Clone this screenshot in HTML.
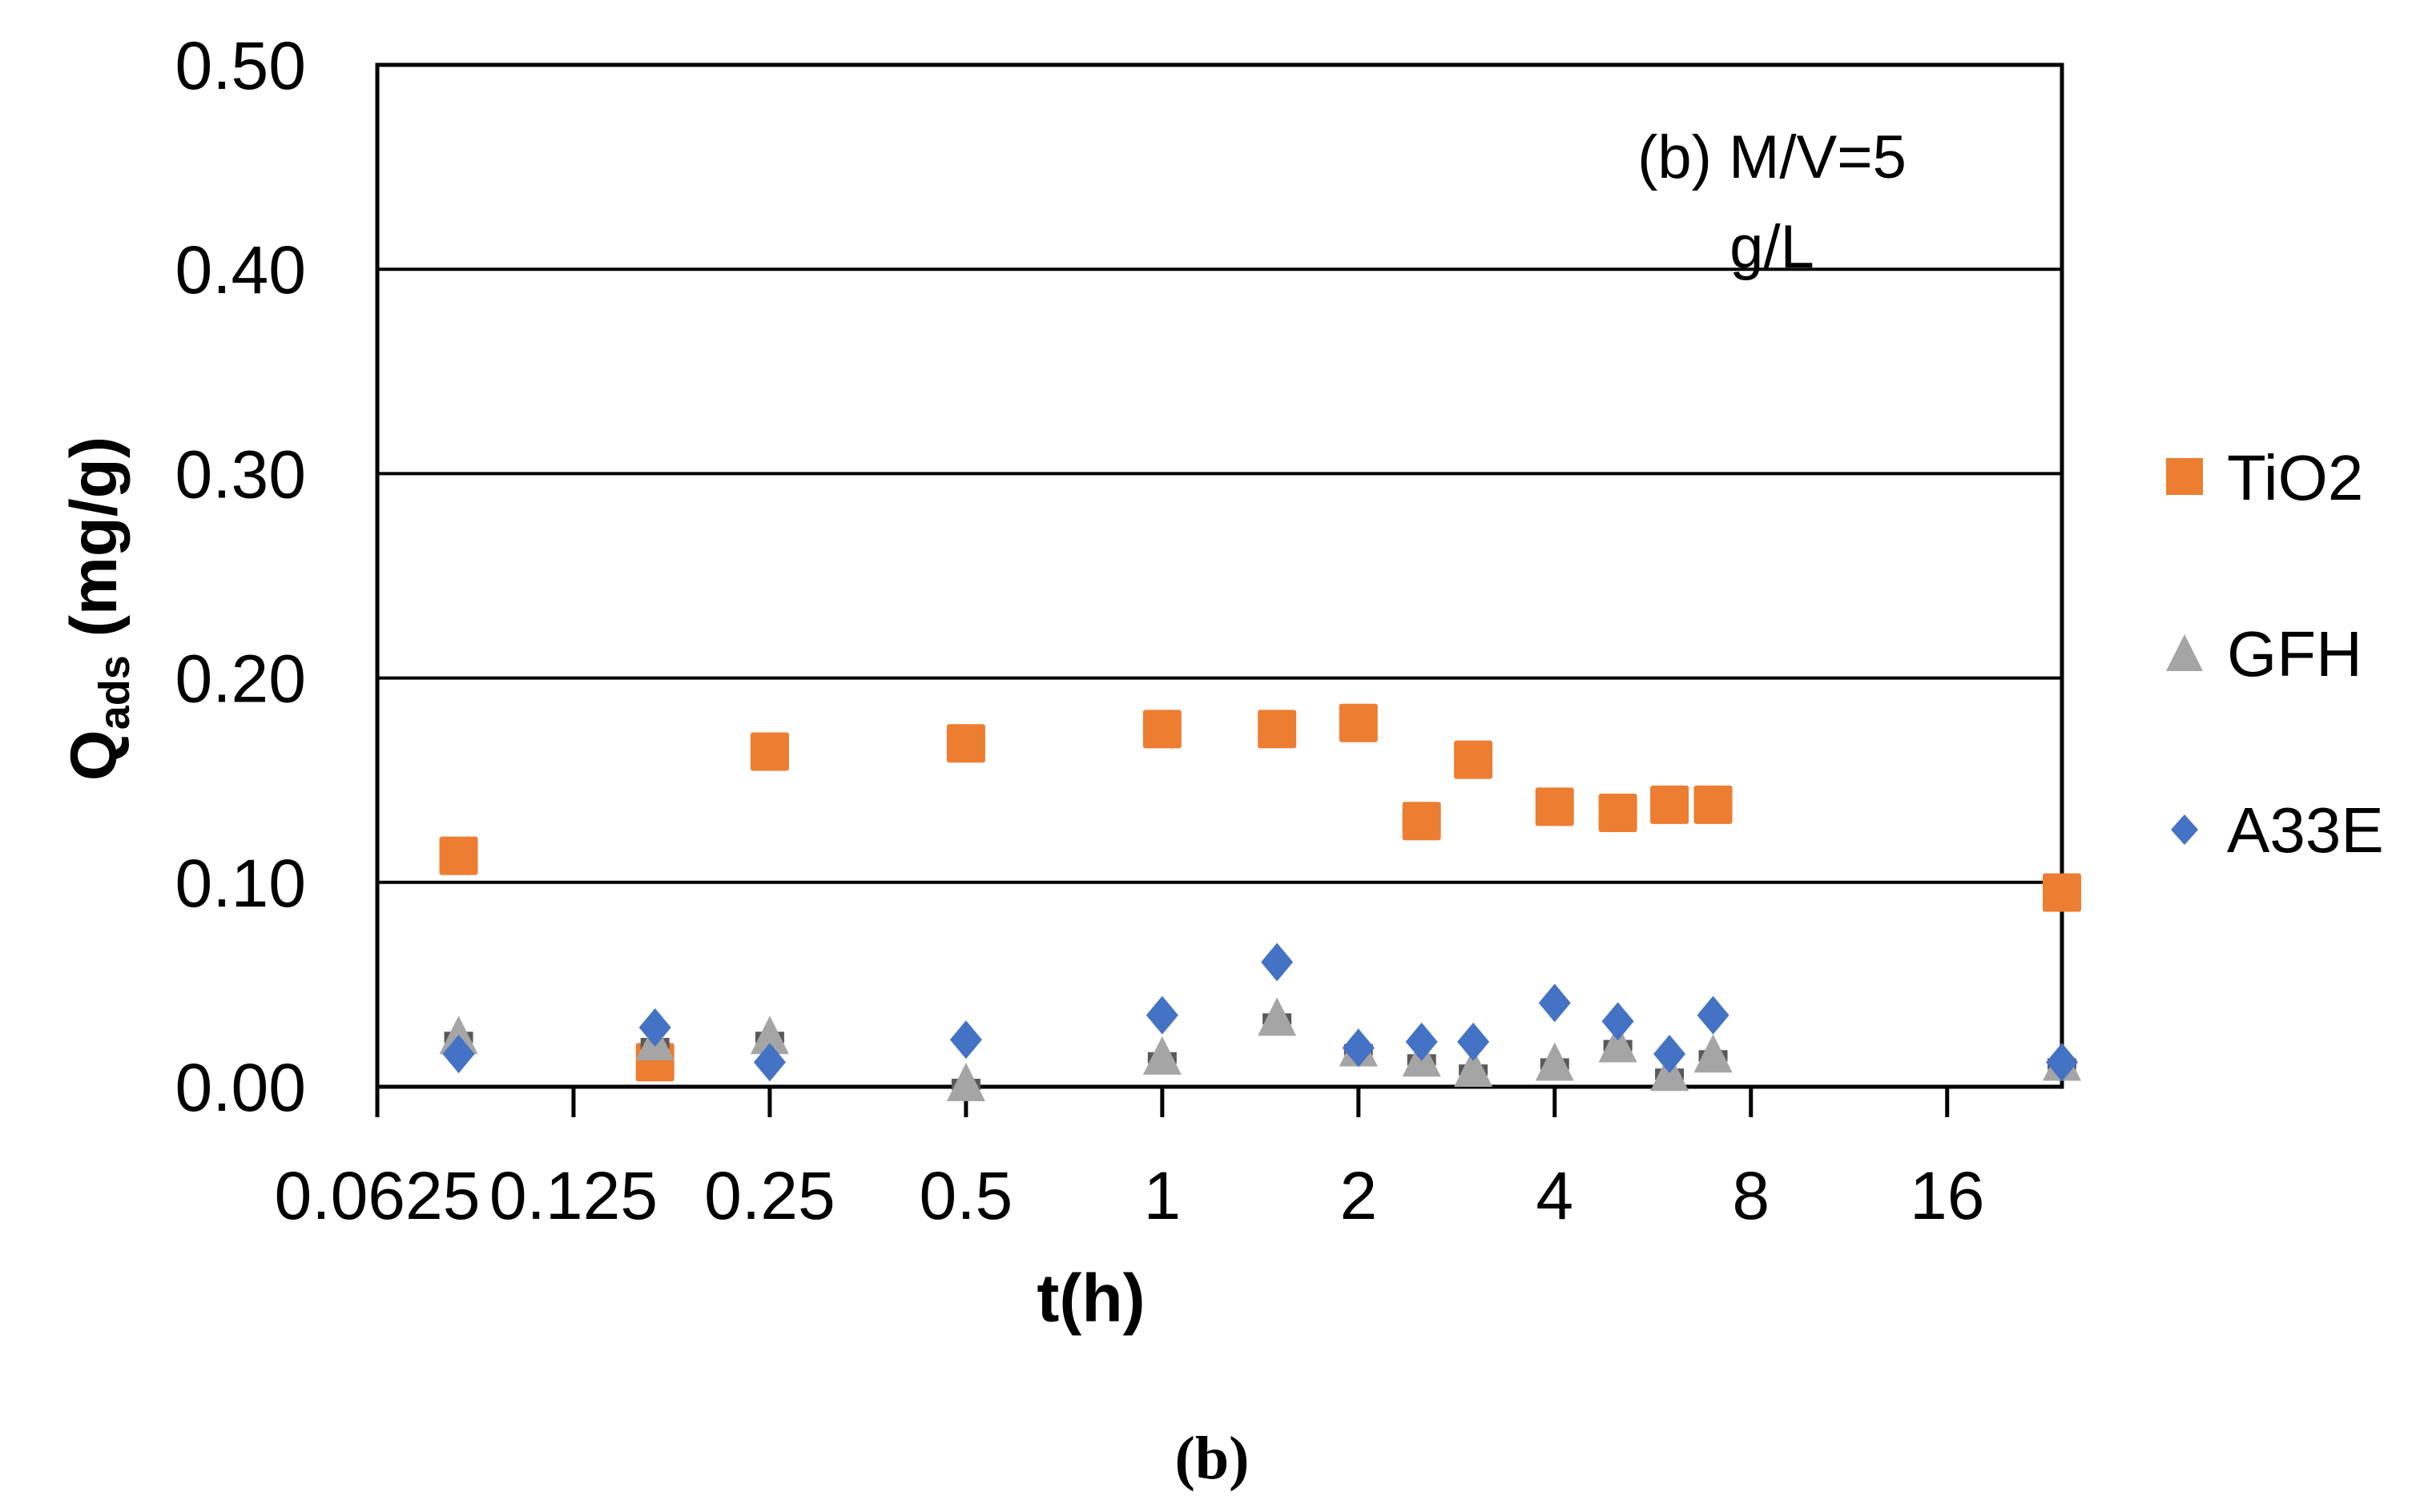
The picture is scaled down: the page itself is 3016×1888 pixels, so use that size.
<!DOCTYPE html>
<html><head><meta charset="utf-8"><style>
html,body{margin:0;padding:0;background:#fff;}
svg{display:block;font-family:"Liberation Sans",sans-serif;}
</style></head><body>
<svg id="chart" width="3016" height="1888" viewBox="0 0 3016 1888" xmlns="http://www.w3.org/2000/svg">
<g id="grid"></g>
<g id="ticks"></g>
<g id="marks"></g>
<text transform="translate(145,760) rotate(-90)" text-anchor="middle" font-size="82" font-weight="bold">Q<tspan font-size="54" dy="16">ads</tspan><tspan dy="-16"> (mg/g)</tspan></text>
<text x="1362" y="1650" text-anchor="middle" font-size="84" font-weight="bold">t(h)</text>
<text x="2212" y="222" text-anchor="middle" font-size="76">(b) M/V=5</text>
<text x="2212" y="334" text-anchor="middle" font-size="76">g/L</text>
<text x="1513" y="1846" text-anchor="middle" font-size="76" font-weight="bold" font-family="Liberation Serif, serif">(b)</text>
<g>
<rect x="2704" y="572" width="46" height="46" fill="#ED7D31"/>
<text x="2780" y="624" font-size="80">TiO2</text>
<polygon points="2727,792 2750,838 2704,838" fill="#A5A5A5"/>
<text x="2780" y="844" font-size="80">GFH</text>
<polygon points="2727,1017 2744,1036 2727,1055 2710,1036" fill="#4472C4"/>
<text x="2780" y="1064" font-size="80">A33E</text>
</g>
</svg>
<script>
const times = [0.0833, 0.1667, 0.25, 0.5, 1, 1.5, 2, 2.5, 3, 4, 5, 6, 7, 24];
const tio2 = [0.113, 0.012, 0.164, 0.168, 0.175, 0.175, 0.178, 0.130, 0.160, 0.137, 0.134, 0.138, 0.138, 0.095];
const gfh = [0.023, 0.020, 0.023, 0.000, 0.013, 0.032, 0.017, 0.012, 0.007, 0.010, 0.019, 0.005, 0.014, 0.010];
const a33e = [0.016, 0.029, 0.012, 0.023, 0.035, 0.061, 0.019, 0.022, 0.022, 0.041, 0.032, 0.016, 0.035, 0.012];
const xTicks = [0.0625, 0.125, 0.25, 0.5, 1, 2, 4, 8, 16];
const xTickLabels = ["0.0625", "0.125", "0.25", "0.5", "1", "2", "4", "8", "16"];
const yTicks = [0, 0.1, 0.2, 0.3, 0.4, 0.5];
const yTickLabels = ["0.00", "0.10", "0.20", "0.30", "0.40", "0.50"];

const NS = "http://www.w3.org/2000/svg";
const L = 471, R = 2574, T = 81, B = 1357;
const xMin = 0.0625, xMax = 24, yMax = 0.5;
function xs(v){ return L + (Math.log2(v) - Math.log2(xMin)) / (Math.log2(xMax) - Math.log2(xMin)) * (R - L); }
function ys(v){ return B - v / yMax * (B - T); }
function mk(tag, attrs, parent){ const e = document.createElementNS(NS, tag); for (const k in attrs) e.setAttribute(k, attrs[k]); parent.appendChild(e); return e; }

const grid = document.getElementById('grid');
const ticks = document.getElementById('ticks');
const marks = document.getElementById('marks');

yTicks.forEach((v, i) => {
  if (v > 0 && v < yMax) {
    const g = mk('line', {x1: L, x2: R, y1: ys(v), y2: ys(v), stroke: '#000', 'stroke-width': 4}, grid);
    
    
  }
  const t = mk('text', {x: 382, y: ys(v) + 30, 'text-anchor': 'end', 'font-size': 84}, ticks);
  t.textContent = yTickLabels[i];
  
  
});
const frame = mk('rect', {x: L, y: T, width: R - L, height: B - T, fill: 'none', stroke: '#000', 'stroke-width': 5}, grid);



xTicks.forEach((v, i) => {
  const x = xs(v);
  const tk = mk('line', {x1: x, x2: x, y1: B, y2: B + 38, stroke: '#000', 'stroke-width': 5}, ticks);
  
  
  const t = mk('text', {x: x, y: 1522, 'text-anchor': 'middle', 'font-size': 84}, ticks);
  t.textContent = xTickLabels[i];
  
  
});

times.forEach((tv, i) => {
  const x = xs(tv);
  const s = mk('rect', {x: x - 24, y: ys(tio2[i]) - 24, width: 48, height: 48, rx: 3, fill: '#ED7D31'}, marks);
  
  
});
times.forEach((tv, i) => {
  const x = xs(tv), y = ys(gfh[i]);
  const c = mk('rect', {x: x - 18, y: y - 10, width: 36, height: 14, fill: '#595959'}, marks);
  
  
  const p = mk('polygon', {points: `${x},${y-30} ${x+24},${y+18} ${x-24},${y+18}`, fill: '#A5A5A5'}, marks);
  
  
});
times.forEach((tv, i) => {
  const x = xs(tv), y = ys(a33e[i]);
  const d = mk('polygon', {points: `${x},${y-24} ${x+20},${y} ${x},${y+24} ${x-20},${y}`, fill: '#4472C4'}, marks);
  
  
});
</script>
</body></html>
